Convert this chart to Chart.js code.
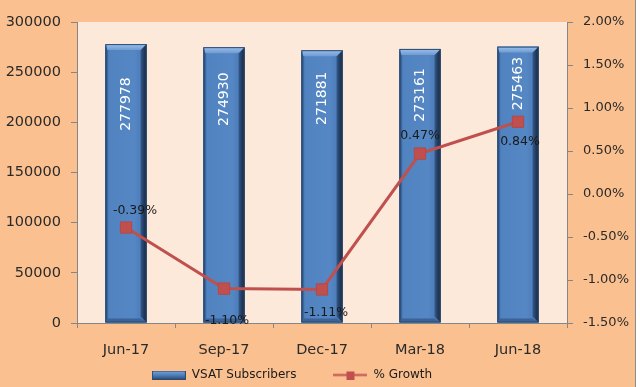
<!DOCTYPE html>
<html><head><meta charset="utf-8">
<script src="https://cdn.jsdelivr.net/npm/chart.js@4.4.1/dist/chart.umd.min.js"></script>
<style>html,body{margin:0;padding:0;background:#fff}#wrap{width:640px;height:387px;position:relative}</style>
</head><body><div id="wrap"><canvas id="c" width="640" height="387"></canvas></div>
<script>
const categories = ['Jun-17', 'Sep-17', 'Dec-17', 'Mar-18', 'Jun-18'];
const subscribers = [277978, 274930, 271881, 273161, 275463];
const growthPct = [-0.39, -1.10, -1.11, 0.47, 0.84];
const subscriberTicks = [0, 50000, 100000, 150000, 200000, 250000, 300000];
const growthTicks = [-1.5, -1.0, -0.5, 0, 0.5, 1.0, 1.5, 2.0];
const seriesNames = ['VSAT Subscribers', '% Growth'];

const FONT = 'DejaVu Sans';
const TXT = '#2a2a2a';
const AXIS = '#868686';

// legend swatches
function makeBarSwatch() {
  const c = document.createElement('canvas'); c.width = 34; c.height = 9;
  const x = c.getContext('2d');
  const g = x.createLinearGradient(0, 0, 0, 9);
  g.addColorStop(0, '#7AA3D8'); g.addColorStop(0.5, '#4F81BD'); g.addColorStop(1, '#2B4A72');
  x.fillStyle = g; x.fillRect(0, 0, 34, 9);
  x.strokeStyle = '#2B4A72'; x.strokeRect(0.5, 0.5, 33, 8);
  return c;
}
function makeLineSwatch() {
  const c = document.createElement('canvas'); c.width = 34; c.height = 9;
  const x = c.getContext('2d');
  x.strokeStyle = '#C0504D'; x.lineWidth = 2;
  x.beginPath(); x.moveTo(0, 4.5); x.lineTo(34, 4.5); x.stroke();
  x.fillStyle = '#C0504D'; x.fillRect(13, 1, 8, 8);
  return c;
}
const swatches = [makeBarSwatch(), makeLineSwatch()];

const bgPlugin = {
  id: 'bg',
  beforeDraw(chart) {
    const { ctx, chartArea: a } = chart;
    ctx.save();
    ctx.fillStyle = '#ffffff'; ctx.fillRect(0, 0, chart.width, chart.height);
    ctx.fillStyle = '#FAC090'; ctx.fillRect(0, 0, 635, chart.height);
    ctx.fillStyle = '#FDE9D9'; ctx.fillRect(a.left, a.top, a.right - a.left, a.bottom - a.top);
    ctx.strokeStyle = '#8C8C8C'; ctx.lineWidth = 1;
    ctx.beginPath(); ctx.moveTo(635.5, 0); ctx.lineTo(635.5, chart.height); ctx.stroke();
    ctx.restore();
  }
};

// place the legend where the reference has it
const legendPlace = {
  id: 'legendPlace',
  afterLayout(chart) {
    const lg = chart.legend;
    if (!lg) return;
    lg.left -= 28; lg.right -= 28;
    lg.top -= 28; lg.bottom = chart.height;
  }
};

function poly(ctx, pts, fill) {
  ctx.beginPath();
  ctx.moveTo(pts[0][0], pts[0][1]);
  for (let i = 1; i < pts.length; i++) ctx.lineTo(pts[i][0], pts[i][1]);
  ctx.closePath();
  ctx.fillStyle = fill; ctx.fill();
}

const barLabelOffsets = [60, 52, 48, 46, 37];
const growthLabelOffsets = [[9, -17], [3, 32], [4, 23], [0, -18], [2, 20]];

const barStylePlugin = {
  id: 'barStyle',
  afterDatasetDraw(chart, args) {
    if (args.meta.type !== 'bar') return;
    const ctx = chart.ctx;
    const vals = chart.data.datasets[args.index].data;
    ctx.save();
    args.meta.data.forEach((el, i) => {
      const p = el.getProps(['x', 'y', 'base', 'width'], true);
      const l = p.x - p.width / 2, r = p.x + p.width / 2, t = p.y, b = p.base, bv = 6;
      const g = ctx.createLinearGradient(l, 0, r, 0);
      g.addColorStop(0, '#3F6CA4'); g.addColorStop(0.1, '#5083C0'); g.addColorStop(0.7, '#5587C5'); g.addColorStop(1, '#4574AE');
      ctx.fillStyle = g; ctx.fillRect(l, t, p.width, b - t);
      const gr = ctx.createLinearGradient(r - bv, 0, r, 0);
      gr.addColorStop(0, '#33598A'); gr.addColorStop(1, '#14233A');
      poly(ctx, [[r, t], [r, b], [r - bv, b - bv], [r - bv, t + bv]], gr);
      poly(ctx, [[l, t], [l + 2, t + bv], [l + 2, b - 4], [l, b]], '#2F5588');
      const gt = ctx.createLinearGradient(0, t, 0, t + bv);
      gt.addColorStop(0, '#9CC0EB'); gt.addColorStop(1, '#6F9BD2');
      poly(ctx, [[l, t], [r, t], [r - bv, t + bv], [l + 2, t + bv]], gt);
      poly(ctx, [[l, b], [r, b], [r - bv, b - 4], [l + 2, b - 4]], '#3A6398');
      ctx.strokeStyle = '#2B4A72'; ctx.lineWidth = 1;
      ctx.strokeRect(l + 0.5, t + 0.5, p.width - 1, b - t - 1);
      // rotated value label
      ctx.save();
      ctx.translate(p.x, t + barLabelOffsets[i]);
      ctx.rotate(-Math.PI / 2);
      ctx.fillStyle = '#ffffff';
      ctx.font = '14px "' + FONT + '"';
      ctx.textAlign = 'center'; ctx.textBaseline = 'middle';
      ctx.fillText(String(vals[i]), 0, 0);
      ctx.restore();
    });
    ctx.restore();
  },
  afterDatasetsDraw(chart) {
    const ctx = chart.ctx;
    const meta = chart.getDatasetMeta(1);
    ctx.save();
    ctx.fillStyle = '#1a1a1a';
    ctx.font = '12.5px "' + FONT + '"';
    ctx.textAlign = 'center'; ctx.textBaseline = 'middle';
    meta.data.forEach((el, i) => {
      const o = growthLabelOffsets[i];
      ctx.fillText(growthPct[i].toFixed(2) + '%', el.x + o[0], el.y + o[1]);
    });
    ctx.restore();
  }
};

new Chart(document.getElementById('c'), {
  type: 'bar',
  data: {
    labels: categories,
    datasets: [
      {
        type: 'bar', label: seriesNames[0], data: subscribers, yAxisID: 'y',
        backgroundColor: '#4F81BD', borderWidth: 0, order: 1,
        barPercentage: 0.42, categoryPercentage: 1.0
      },
      {
        type: 'line', label: seriesNames[1], data: growthPct, yAxisID: 'y2',
        borderColor: '#C0504D', borderWidth: 3, backgroundColor: '#C0504D',
        pointStyle: 'rect', pointRadius: 8, pointBackgroundColor: '#C0504D',
        pointBorderColor: '#B4484A', pointBorderWidth: 1, tension: 0, order: 0
      }
    ]
  },
  options: {
    responsive: false, animation: false, devicePixelRatio: 1,
    layout: { padding: { left: 0, right: 0, top: 22, bottom: 0 } },
    plugins: {
      tooltip: { enabled: false },
      legend: {
        position: 'bottom',
        maxHeight: 27,
        labels: {
          usePointStyle: true, pointStyleWidth: 34, padding: 37,
          font: { family: FONT, size: 12 }, color: '#1a1a1a',
          generateLabels(chart) {
            return chart.data.datasets.map((ds, i) => ({
              text: ds.label, pointStyle: swatches[i], datasetIndex: i, hidden: false,
              fontColor: '#1a1a1a', lineWidth: 0, strokeStyle: 'rgba(0,0,0,0)', fillStyle: 'rgba(0,0,0,0)'
            }));
          }
        }
      }
    },
    scales: {
      x: {
        grid: { display: true, drawOnChartArea: false, drawTicks: true, tickLength: 5, color: AXIS, offset: true },
        border: { display: true, color: AXIS },
        ticks: { font: { family: FONT, size: 14.5 }, color: TXT, padding: 14, maxRotation: 0, autoSkip: false },
        afterFit(s) { s.height = 37; }
      },
      y: {
        position: 'left', min: 0, max: 300000,
        grid: { drawOnChartArea: false, drawTicks: true, tickLength: 6, color: AXIS },
        border: { display: true, color: AXIS },
        ticks: { font: { family: FONT, size: 14.5 }, color: TXT, padding: 10, autoSkip: false, callback: v => String(v) },
        afterBuildTicks(s) { s.ticks = subscriberTicks.map(v => ({ value: v })); },
        afterFit(s) { s.width = 77; }
      },
      y2: {
        position: 'right', min: -1.5, max: 2.0,
        grid: { drawOnChartArea: false, drawTicks: true, tickLength: 6, color: AXIS },
        border: { display: true, color: AXIS },
        ticks: { font: { family: FONT, size: 13 }, color: TXT, padding: 10, autoSkip: false, callback: v => Number(v).toFixed(2) + '%' },
        afterBuildTicks(s) { s.ticks = growthTicks.map(v => ({ value: v })); },
        afterFit(s) { s.width = 73; }
      }
    }
  },
  plugins: [bgPlugin, legendPlace, barStylePlugin]
});
</script>
</body></html>
